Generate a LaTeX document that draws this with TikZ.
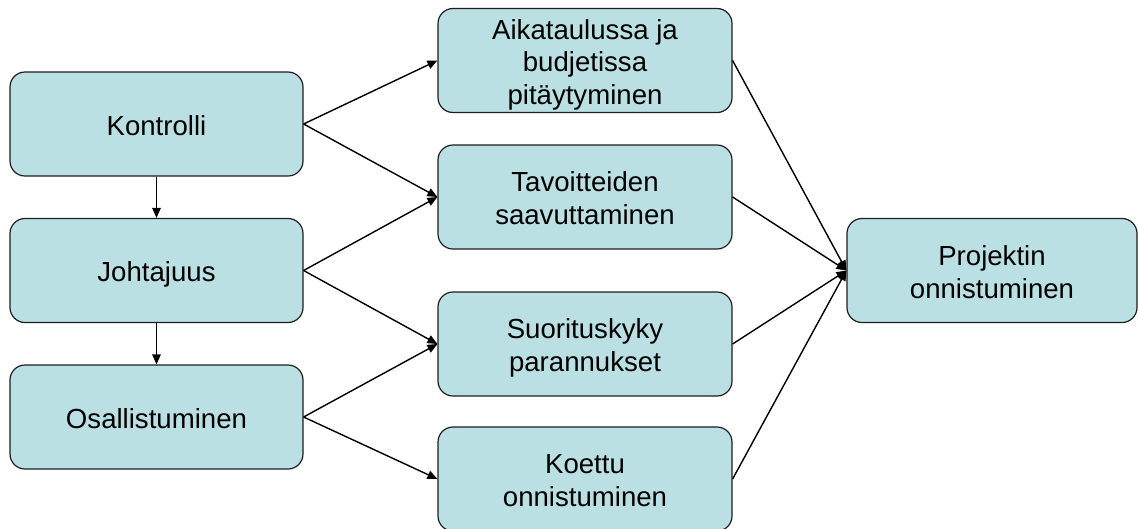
\documentclass[tikz,border=0pt]{standalone}
\usepackage{fontspec}
\setmainfont{Liberation Sans}
\usetikzlibrary{arrows.meta}
\definecolor{boxfill}{RGB}{187,224,227}
\definecolor{boxline}{RGB}{30,30,30}
\begin{document}
\begin{tikzpicture}[x=1pt,y=-1pt,
  box/.style={draw=boxline,line width=1.2pt,fill=boxfill,rounded corners=15pt,
    minimum width=#1,minimum height=104pt,inner sep=0pt},
  box/.default=293pt,
  txt/.style={inner sep=0pt,align=center,yshift=-4.8pt,
    font=\fontsize{27.6pt}{33pt}\selectfont},
  conn/.style={line width=1.4pt,-{Triangle[length=10pt,width=8.5pt]}}]
\useasboundingbox (0,0) rectangle (1138,528);
\clip (0,0) rectangle (1138,528);
\node[box,label={[txt]center:\strut Kontrolli}] (k) at (156.5,124) {};
\node[box,label={[txt]center:\strut Johtajuus}] (j) at (156.5,270.5) {};
\node[box,label={[txt]center:\strut Osallistuminen}] (o) at (156.5,417) {};
\node[box=294pt,label={[txt,font=\fontsize{27.6pt}{32.5pt}\selectfont]center:{\strut Aikataulussa ja\\\strut budjetissa\\\strut pitäytyminen}}] (a) at (585,60.5) {};
\node[box=294pt,label={[txt]center:{\strut Tavoitteiden\\\strut saavuttaminen}}] (t) at (585,197) {};
\node[box=294pt,label={[txt]center:{\strut Suorituskyky\\\strut parannukset}}] (s) at (585,344) {};
\node[box=294pt,label={[txt]center:{\strut Koettu\\\strut onnistuminen}}] (e) at (585,479) {};
\node[box=290pt,label={[txt]center:{\strut Projektin\\\strut onnistuminen}}] (p) at (992,270.5) {};
\draw[conn] (k.south) -- (j.north);
\draw[conn] (j.south) -- (o.north);
\draw[conn] (k.east) -- (a.west);
\draw[conn] (k.east) -- (t.west);
\draw[conn] (j.east) -- (t.west);
\draw[conn] (j.east) -- (s.west);
\draw[conn] (o.east) -- (s.west);
\draw[conn] (o.east) -- (e.west);
\draw[conn] (a.east) -- (p.west);
\draw[conn] (t.east) -- (p.west);
\draw[conn] (s.east) -- (p.west);
\draw[conn] (e.east) -- (p.west);
\end{tikzpicture}
\end{document}
